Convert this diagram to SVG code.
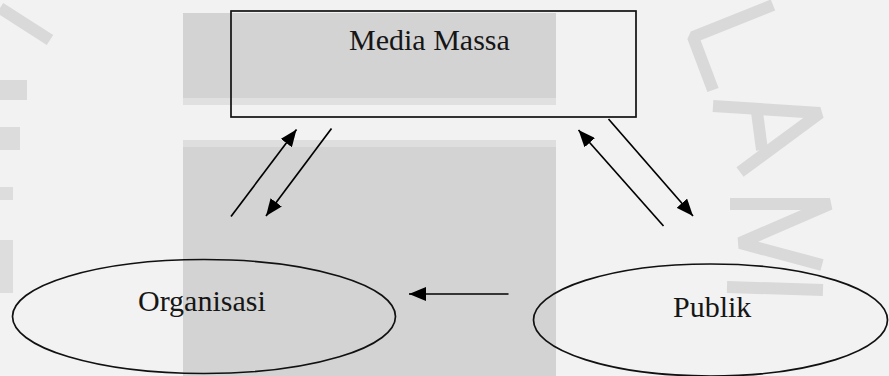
<svg xmlns="http://www.w3.org/2000/svg" width="889" height="376" viewBox="0 0 889 376">
  <style>
    .shape { fill: none; stroke: #111; stroke-width: 1.7; }
    .conn { stroke: #000; stroke-width: 1.7; fill: none; marker-end: url(#ah); }
    .label { font-family: "Liberation Serif", "Times New Roman", serif; font-size: 30px; fill: #161616; }
    .wm { stroke: #d9d9d9; stroke-width: 12; fill: none; stroke-linejoin: bevel; }
  </style>
  <defs>
    <marker id="ah" markerUnits="userSpaceOnUse" markerWidth="18" markerHeight="14" viewBox="0 0 18 14" refX="17" refY="7" orient="auto">
      <path d="M0,0 L17,7 L0,14 Z" fill="#000"/>
    </marker>
  </defs>
  <g id="background">
    <rect x="0" y="0" width="889" height="376" fill="#f2f2f2"/>
    <rect x="183" y="13" width="373" height="92" fill="#e0e0e0"/>
    <rect x="183" y="13" width="373" height="85" fill="#d3d3d3"/>
    <rect x="183" y="140" width="373" height="236" fill="#dedede"/>
    <rect x="183" y="147" width="373" height="229" fill="#d3d3d3"/>
    <polyline class="wm" points="773,5 693,37 713,90"/>
    <polyline class="wm" points="713,106 820,113 740,172"/>
    <polyline class="wm" points="757,112 762,150"/>
    <polyline class="wm" points="730,204 830,204 740,243 822,265"/>
    <polyline class="wm" points="727,287 823,290"/>
    <polyline class="wm" points="0,8 50,40"/>
    <rect x="0" y="80" width="27" height="20" fill="#dadada"/>
    <rect x="0" y="127" width="20" height="23" fill="#dcdcdc"/>
    <rect x="0" y="187" width="13" height="13" fill="#dddddd"/>
    <rect x="0" y="240" width="13" height="53" fill="#dddddd"/>
  </g>
  <g id="media-massa">
    <rect class="shape" x="231" y="11" width="405" height="106"/>
    <text class="label" x="349" y="49.5">Media Massa</text>
  </g>
  <g id="organisasi">
    <ellipse class="shape" cx="204" cy="316.5" rx="191.5" ry="57"/>
    <text class="label" x="138" y="311">Organisasi</text>
  </g>
  <g id="publik">
    <ellipse class="shape" cx="710.5" cy="320" rx="177" ry="56"/>
    <text class="label" x="673" y="317">Publik</text>
  </g>
  <g id="connectors">
    <line class="conn" x1="231" y1="216.5" x2="296.5" y2="129.5"/>
    <line class="conn" x1="331.5" y1="128.5" x2="266" y2="216"/>
    <line class="conn" x1="663.5" y1="226" x2="578.5" y2="130"/>
    <line class="conn" x1="608.5" y1="119" x2="693" y2="216"/>
    <line class="conn" x1="508.5" y1="294" x2="409" y2="294"/>
  </g>
</svg>
